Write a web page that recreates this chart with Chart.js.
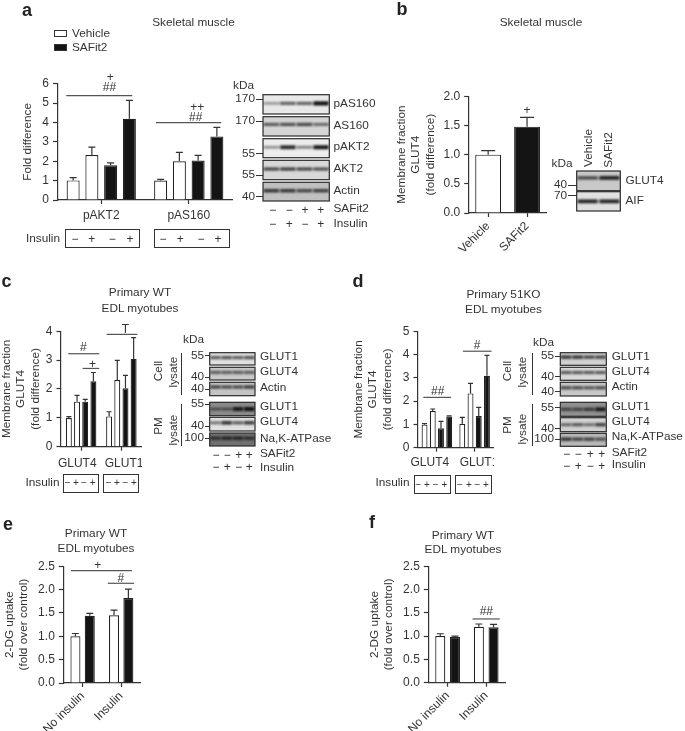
<!DOCTYPE html>
<html>
<head>
<meta charset="utf-8">
<script src="https://cdn.jsdelivr.net/npm/chart.js@4"></script>
<style>
  html, body { margin: 0; padding: 0; background: #fff; }
  #page { position: relative; width: 685px; height: 731px; overflow: hidden; font-family: "Liberation Sans", sans-serif; color: #333; }
  #page canvas { position: absolute; }
  .t { position: absolute; white-space: nowrap; line-height: 1; }
  .box { position: absolute; border: 1.2px solid #333; box-sizing: border-box; }
  .rule { position: absolute; background: #333; }
</style>
</head>
<body>
<div id="page"><canvas id="blots" width="685" height="731" style="left:0;top:0"></canvas></div>
<script>
// a: Fold difference
const aCats = ['pAKT2', 'pAS160'];
const aValues = [[1.01, 1.0], [2.32, 2.0], [1.79, 2.04], [4.19, 3.28]];
const aErrors = [[1.15, 1.06], [2.73, 2.46], [1.92, 2.3], [5.14, 3.75]];
// b: membrane GLUT4
const bCats = ['Vehicle', 'SAFit2'];
const bValues = [[1.0, 1.48]];
const bErrors = [[1.07, 1.64]];
// c: primary WT
const cCats = ['GLUT4', 'GLUT1'];
const cValues = [[0.99, 1.05], [1.56, 2.31], [1.56, 2.02], [2.27, 3.04]];
const cErrors = [[1.04, 1.21], [1.78, 2.99], [1.64, 2.47], [2.57, 3.78]];
// d: primary 51KO
const dCats = ['GLUT4', 'GLUT1'];
const dValues = [[0.99, 1.03], [1.57, 2.33], [0.83, 1.36], [1.34, 3.09]];
const dErrors = [[1.03, 1.3], [1.66, 2.76], [1.13, 1.73], [1.37, 3.96]];
// e, f: 2-DG uptake
const uptakeCats = ['No insulin', 'Insulin'];
const eValues = [[1.0, 1.45], [1.44, 1.82]];
const eErrors = [[1.06, 1.56], [1.49, 2.01]];
const fValues = [[1.0, 1.2], [0.98, 1.19]];
const fErrors = [[1.05, 1.26], [1.0, 1.25]];

// band strength per lane, one row per antibody
const aBands = [[.15, .5, .5, 1], [.5, .55, .6, .4], [.2, .85, .3, .95], [.6, .65, .6, .55], [.7, .7, .6, .65]];
const bBands = [[.6, .85], [.85, .85]];
const cBands = [[.5, .55, .5, .55], [.45, .45, .45, .45], [.6, .55, .55, .65], [.35, .35, .9, 1], [.35, .75, .5, .7], [.6, .7, .7, .6]];
const dBands = [[.7, .7, .6, .6], [.5, .5, .5, .5], [.55, .55, .5, .55], [.5, .5, .6, .9], [.4, .5, .35, .65], [.7, .6, .6, .5]];

const INK = '#333';
const WHITE = '#fff', BLACK = '#141414';
Chart.defaults.font.family = '"Liberation Sans", sans-serif';
Chart.defaults.font.size = 12;
Chart.defaults.color = INK;

const page = document.getElementById('page');

function txt(s, x, y, o) {
  o = o || {};
  const d = document.createElement('div');
  d.className = 't';
  d.textContent = s;
  d.style.left = x + 'px';
  d.style.top = y + 'px';
  d.style.fontSize = (o.size || 11.8) + 'px';
  if (o.bold) { d.style.fontWeight = 'bold'; d.style.color = '#222'; }
  const tx = o.align === 'r' ? '-100%' : o.align === 'l' ? '0' : '-50%';
  d.style.transform = 'translate(' + tx + ',-50%)' + (o.rot ? ' rotate(' + o.rot + 'deg)' : '');
  page.appendChild(d);
}
function box(x0, y0, x1, y1) {
  const d = document.createElement('div');
  d.className = 'box';
  d.style.cssText = 'left:' + x0 + 'px;top:' + y0 + 'px;width:' + (x1 - x0) + 'px;height:' + (y1 - y0) + 'px';
  page.appendChild(d);
  return d;
}
function rule(x, y, w, h) {
  const d = document.createElement('div');
  d.className = 'rule';
  d.style.cssText = 'left:' + x + 'px;top:' + y + 'px;width:' + w + 'px;height:' + h + 'px';
  page.appendChild(d);
}

// error whiskers and significance brackets, in scale units
const annotate = {
  id: 'annotate',
  afterDatasetsDraw(chart, args, opts) {
    const { ctx, scales: { x, y } } = chart;
    ctx.save();
    ctx.strokeStyle = INK;
    ctx.lineWidth = 1.2;
    chart.data.datasets.forEach((ds, i) => {
      chart.getDatasetMeta(i).data.forEach((bar, j) => {
        const top = y.getPixelForValue(ds.err[j]);
        ctx.beginPath();
        ctx.moveTo(bar.x, bar.y);
        ctx.lineTo(bar.x, top);
        ctx.moveTo(bar.x - opts.cap / 2, top);
        ctx.lineTo(bar.x + opts.cap / 2, top);
        ctx.stroke();
      });
    });
    ctx.fillStyle = INK;
    ctx.textAlign = 'center';
    ctx.textBaseline = 'middle';
    ctx.font = '12px "Liberation Sans", sans-serif';
    (opts.brackets || []).forEach(b => {
      const py = y.getPixelForValue(b.y);
      if (b.x1 !== undefined) {
        ctx.strokeStyle = '#555';
        ctx.beginPath();
        ctx.moveTo(x.getPixelForValue(b.x1), py);
        ctx.lineTo(x.getPixelForValue(b.x2), py);
        ctx.stroke();
      }
      (b.marks || []).forEach(m => ctx.fillText(m[0], x.getPixelForValue(m[1]), y.getPixelForValue(m[2])));
    });
    ctx.restore();
  }
};

function barPanel(p) {
  const c = document.createElement('canvas');
  c.width = p.right - p.left;
  c.height = p.bottom - p.top;
  c.style.left = p.left + 'px';
  c.style.top = p.top + 'px';
  page.appendChild(c);
  new Chart(c, {
    type: 'bar',
    plugins: [annotate],
    data: {
      labels: p.cats,
      datasets: p.values.map((v, i) => ({
        data: v,
        err: p.errors[i],
        backgroundColor: p.fills[i],
        borderColor: '#222',
        borderWidth: 1.2,
        categoryPercentage: p.cp,
        barPercentage: p.bp
      }))
    },
    options: {
      responsive: false,
      animation: false,
      events: [],
      layout: { autoPadding: false, padding: { top: p.yTop - p.top, right: 0.5, left: 0, bottom: 0 } },
      plugins: { legend: { display: false }, tooltip: { enabled: false }, annotate: { cap: p.cap, brackets: p.brackets } },
      scales: {
        x: {
          grid: { drawOnChartArea: false, offset: false, tickLength: 4, tickColor: INK, tickWidth: 1.2 },
          border: { color: INK, width: 1.2 },
          ticks: { display: !p.ownLabels, autoSkip: false, padding: p.rot ? 2 : 4, minRotation: p.rot || 0, maxRotation: p.rot || 0 },
          afterFit: s => { s.height = p.bottom - p.y0; }
        },
        y: {
          min: 0,
          max: p.yMax,
          grid: { drawOnChartArea: false, tickLength: 4.5, tickColor: INK, tickWidth: 1.2 },
          border: { color: INK, width: 1.2 },
          ticks: { stepSize: p.step, padding: 4, callback: p.fmt },
          title: { display: true, text: p.yTitle, padding: 0, font: { size: 11.8 } },
          afterFit: s => { s.width = p.axisX - p.left; }
        }
      }
    }
  });
}

const oneDec = v => v.toFixed(1);

barPanel({ left: 21, top: 60, right: 233, bottom: 225, axisX: 57.5, yTop: 83.7, y0: 200, cats: aCats, values: aValues, errors: aErrors,
  fills: [WHITE, WHITE, BLACK, BLACK], cp: .857, bp: .695, cap: 7, yMax: 6, step: 1, yTitle: 'Fold difference',
  brackets: [
    { x1: -.4, x2: .354, y: 5.38, marks: [['##', .094, 5.79], ['+', .103, 6.33]] },
    { x1: .626, x2: 1.371, y: 3.99, marks: [['##', 1.08, 4.24], ['++', 1.096, 4.76]] }
  ] });

barPanel({ left: 395, top: 80, right: 547, bottom: 255, axisX: 468.7, yTop: 96.3, y0: 213, cats: bCats, values: bValues, errors: bErrors,
  fills: [[WHITE, BLACK]], cp: 1, bp: .665, cap: 14, yMax: 2, step: .5, fmt: oneDec, rot: 45,
  yTitle: ['Membrane fraction', 'GLUT4', '(fold difference)'],
  brackets: [{ y: 0, marks: [['+', 1.0, 1.748]] }] });

// c and d: group labels sit off their ticks, so they are placed in scale units
barPanel({ left: 0, top: 320, right: 142, bottom: 472, axisX: 61, yTop: 331, y0: 446.7, cats: cCats, values: cValues, errors: cErrors,
  fills: [WHITE, WHITE, BLACK, BLACK], cp: .813, bp: .73, cap: 5, yMax: 4, step: 1, ownLabels: true,
  yTitle: ['Membrane fraction', 'GLUT4', '(fold difference)'],
  brackets: [
    { x1: -.32, x2: .449, y: 3.22, marks: [['#', .052, 3.44]] },
    { x1: .037, x2: .449, y: 2.71, marks: [['+', .285, 2.85]] },
    { x1: .632, x2: 1.4, y: 3.89, marks: [['T', 1.103, 4.06]] },
    { y: 0, marks: [[cCats[0], -.097, -.574], [cCats[1], 1.068, -.574]] }
  ] });

barPanel({ left: 352, top: 320, right: 494, bottom: 472, axisX: 418, yTop: 331, y0: 447.7, cats: dCats, values: dValues, errors: dErrors,
  fills: [WHITE, WHITE, BLACK, BLACK], cp: .871, bp: .72, cap: 5, yMax: 5, step: 1, ownLabels: true,
  yTitle: ['Membrane fraction', 'GLUT4', '(fold difference)'],
  brackets: [
    { x1: -.359, x2: .377, y: 2.16, marks: [['##', .024, 2.4]] },
    { x1: .688, x2: 1.448, y: 4.14, marks: [['#', 1.068, 4.39]] },
    { y: 0, marks: [[dCats[0], -.186, -.643], [dCats[1], 1.116, -.643]] }
  ] });

barPanel({ left: 3, top: 555, right: 141, bottom: 731, axisX: 63.3, yTop: 566.3, y0: 683, cats: uptakeCats, values: eValues, errors: eErrors,
  fills: [WHITE, BLACK], cp: .743, bp: .7, cap: 7, yMax: 2.5, step: .5, fmt: oneDec, rot: 45,
  yTitle: ['2-DG uptake', '(fold over control)'],
  brackets: [
    { x1: -.3, x2: 1.277, y: 2.406, marks: [['+', .394, 2.513]] },
    { x1: .653, x2: 1.336, y: 2.136, marks: [['#', .991, 2.243]] }
  ] });

barPanel({ left: 368, top: 555, right: 506, bottom: 731, axisX: 428.3, yTop: 565.7, y0: 682.7, cats: uptakeCats, values: fValues, errors: fErrors,
  fills: [WHITE, BLACK], cp: .761, bp: .685, cap: 7, yMax: 2.5, step: .5, fmt: oneDec, rot: 45,
  yTitle: ['2-DG uptake', '(fold over control)'],
  brackets: [{ x1: .647, x2: 1.351, y: 1.368, marks: [['##', 1.004, 1.532]] }] });

// western blot strips
const bctx = document.getElementById('blots').getContext('2d');
function blot(x0, x1, rows, bands) {
  rows.forEach((r, k) => {
    const [y0, y1, bg, pos] = r;
    const h = y1 - y0, w = x1 - x0, n = bands[k].length, ctx = bctx;
    ctx.save();
    ctx.fillStyle = bg;
    ctx.fillRect(x0, y0, w, h);
    ctx.beginPath();
    ctx.rect(x0, y0, w, h);
    ctx.clip();
    ctx.filter = 'blur(1.2px)';
    ctx.fillStyle = '#111';
    ctx.globalAlpha = .35;
    ctx.fillRect(x0, y0 + h * pos - 1, w, 2);
    bands[k].forEach((v, i) => {
      ctx.globalAlpha = v;
      const cw = w / n;
      ctx.fillRect(x0 + i * cw + cw * .05, y0 + h * pos - 1 - v, cw * .9, 2 + 2 * v);
    });
    ctx.restore();
    bctx.strokeStyle = '#2a2a2a';
    bctx.lineWidth = 1.2;
    bctx.strokeRect(x0, y0, w, h);
  });
}
function kdaMarks(xRight, xFrame, marks) {
  marks.forEach(m => {
    txt(m[0], xRight, m[1], { align: 'r' });
    rule(xRight + 1, m[1] - .5, xFrame - xRight - 1, 1.1);
  });
}
function signRows(xs, ySaf, yIns, saf, ins, size) {
  xs.forEach((x, i) => {
    if (saf) txt(saf[i], x, ySaf, { size: size });
    txt(ins[i], x, yIns, { size: size });
  });
}
const SAF = ['−', '−', '+', '+'], INS = ['−', '+', '−', '+'];

blot(263, 329.3, [
  [94.7, 114, '#e8e8e8', .45], [116.7, 136, '#d4d4d4', .4], [138.7, 157.7, '#ececec', .45],
  [160.3, 179.7, '#d8d8d8', .45], [182.3, 201, '#c0c0c0', .45]
], aBands);
blot(576.7, 620.3, [[171, 190.7, '#c8c8c8', .35], [191.7, 211, '#e0e0e0', .5]], bBands);
blot(209.7, 255, [
  [352.7, 365, '#e0e0e0', .4], [367.3, 380, '#c8c8c8', .4], [382.3, 395.7, '#c4c4c4', .35],
  [402.3, 415.7, '#8a8a8a', .5], [417.3, 431, '#e0e0e0', .4], [433, 446, '#707070', .4]
], cBands);
blot(560.3, 606.3, [
  [352.7, 365.3, '#d0d0d0', .35], [367.3, 380.3, '#d8d8d8', .4], [382.3, 396, '#c8c8c8', .4],
  [402.3, 416.3, '#909090', .5], [417.7, 431.7, '#d0d0d0', .5], [433.3, 446.3, '#b8b8b8', .45]
], dBands);

// panel letters
txt('a', 22, 9.5, { size: 18, bold: true, align: 'l' });
txt('b', 396.5, 8.5, { size: 18, bold: true, align: 'l' });
txt('c', 1.5, 281, { size: 18, bold: true, align: 'l' });
txt('d', 352.5, 281, { size: 18, bold: true, align: 'l' });
txt('e', 3, 524, { size: 18, bold: true, align: 'l' });
txt('f', 369, 522, { size: 18, bold: true, align: 'l' });

// panel a text
txt('Skeletal muscle', 193.5, 23);
box(53.5, 30, 66.5, 37);
txt('Vehicle', 72, 33.5, { align: 'l' });
box(53.5, 43.5, 66.5, 50.5).style.background = BLACK;
txt('SAFit2', 72, 47.5, { align: 'l' });
txt('Insulin', 60, 238.5, { align: 'r' });
box(65, 228.5, 139.5, 247.5);
box(153.5, 228.5, 230, 247.5);
signRows([75, 91.7, 112.3, 130], 0, 238.5, null, INS, 12);
signRows([163, 180.3, 201, 218], 0, 238.5, null, INS, 12);
txt('kDa', 233, 86, { align: 'l' });
kdaMarks(255, 263, [['170', 99], ['170', 121.3], ['55', 153.7], ['55', 175], ['40', 196.7]]);
[['pAS160', 104.3], ['AS160', 125.7], ['pAKT2', 147.3], ['AKT2', 169], ['Actin', 190.7], ['SAFit2', 209.3], ['Insulin', 223.7]]
  .forEach(l => txt(l[0], 333.5, l[1], { align: 'l' }));
signRows([272.7, 289.3, 305, 320.7], 209.5, 223.5, SAF, INS, 12);

// panel b text
txt('Skeletal muscle', 541, 23);
txt('kDa', 551.5, 164, { align: 'l' });
kdaMarks(567, 576.7, [['40', 185.3], ['70', 195.7]]);
txt('GLUT4', 625.5, 180.7, { align: 'l' });
txt('AIF', 625.5, 201, { align: 'l' });
txt('Vehicle', 589.3, 147.5, { rot: -90 });
txt('SAFit2', 608.7, 149.5, { rot: -90 });

// panel c text
txt('Primary WT', 140, 292.7);
txt('EDL myotubes', 140, 308.7);
txt('Cell', 158.5, 370.7, { rot: -90 });
txt('lysate', 174, 372.3, { rot: -90 });
txt('PM', 158.5, 426, { rot: -90 });
txt('lysate', 174, 429.7, { rot: -90 });
rule(181, 353.3, 1.1, 41.7);
rule(181, 404, 1.1, 41.7);
txt('kDa', 183, 340, { align: 'l' });
kdaMarks(204, 209.7, [['55', 355.7], ['40', 377.3], ['40', 389.3], ['55', 404], ['40', 426.3], ['100', 438.3]]);
[['GLUT1', 356.7], ['GLUT4', 372.3], ['Actin', 387.7], ['GLUT1', 407.3], ['GLUT4', 422.3], ['Na,K-ATPase', 439.3], ['SAFit2', 454], ['Insulin', 467.7]]
  .forEach(l => txt(l[0], 260, l[1], { align: 'l' }));
signRows([216, 227.3, 238.7, 249.3], 455.3, 467.3, SAF, INS, 12);
txt('Insulin', 59.5, 483.3, { align: 'r' });
box(63.3, 474, 99, 492.7);
box(103.3, 474, 139.3, 492.7);
signRows([67.7, 76, 84, 92.7], 0, 483.3, null, INS, 10);
signRows([108.7, 117, 125.3, 134], 0, 483.3, null, INS, 10);

// panel d text
txt('Primary 51KO', 503.5, 295);
txt('EDL myotubes', 503.5, 310);
txt('Cell', 507.7, 370.7, { rot: -90 });
txt('lysate', 523.3, 371.7, { rot: -90 });
txt('PM', 507.7, 424.7, { rot: -90 });
txt('lysate', 523.3, 429.3, { rot: -90 });
rule(531.5, 353.3, 1.1, 41.7);
rule(531.5, 404, 1.1, 41.7);
txt('kDa', 533, 343.3, { align: 'l' });
kdaMarks(554, 560.3, [['55', 356], ['40', 376.7], ['40', 391.7], ['55', 407.7], ['40', 428.7], ['100', 439.3]]);
[['GLUT1', 357.3], ['GLUT4', 372.3], ['Actin', 387.3], ['GLUT1', 407.3], ['GLUT4', 422.3], ['Na,K-ATPase', 437.3], ['SAFit2', 452.7], ['Insulin', 465.3]]
  .forEach(l => txt(l[0], 611.7, l[1], { align: 'l' }));
signRows([566.7, 578.3, 590.3, 601.7], 454, 465.7, SAF, INS, 12);
txt('Insulin', 409.5, 483.3, { align: 'r' });
box(413.7, 475.3, 450.7, 494);
box(455.3, 475.3, 492, 494);
signRows([418.3, 427, 435.7, 444.3], 0, 484.5, null, INS, 10);
signRows([460, 469, 477.3, 486], 0, 484.5, null, INS, 10);

// panels e, f titles
txt('Primary WT', 96, 534.3);
txt('EDL myotubes', 96, 549);
txt('Primary WT', 463, 536);
txt('EDL myotubes', 463, 550.3);
</script>
</body>
</html>
